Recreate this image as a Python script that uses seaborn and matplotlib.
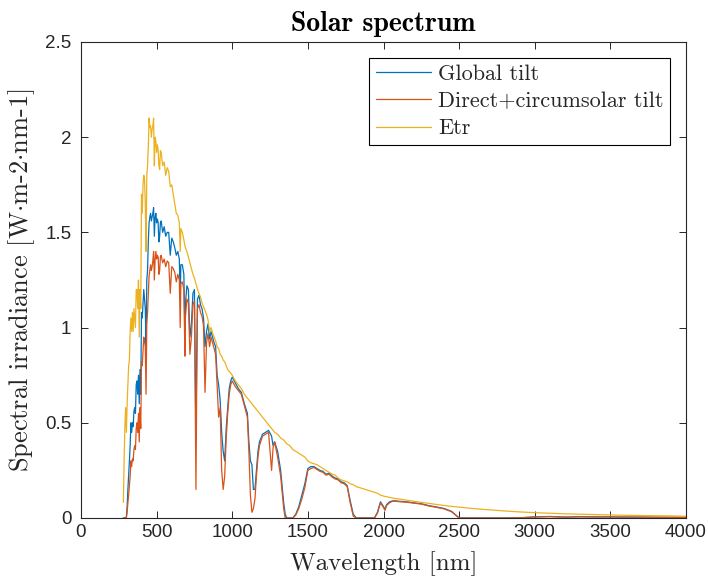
import numpy as np
import pandas as pd
import matplotlib
matplotlib.use("Agg")
import matplotlib.pyplot as plt
import seaborn as sns

# ---------------- data ----------------
wavelength = [
    280, 285, 290, 295, 300, 305, 310, 315, 320, 325,
    330, 335, 340, 345, 350, 355, 360, 365, 370, 375,
    380, 385, 390, 395, 400, 405, 410, 415, 420, 425,
    430, 435, 440, 445, 450, 455, 460, 465, 470, 475,
    480, 485, 490, 495, 500, 505, 510, 515, 520, 525,
    530, 540, 550, 560, 570, 580, 590, 600, 610, 620,
    630, 640, 650, 656, 660, 670, 680, 687, 690, 700,
    710, 720, 730, 740, 750, 760, 765, 770, 780, 790,
    800, 810, 820, 830, 840, 850, 860, 870, 880, 890,
    900, 910, 920, 930, 940, 950, 960, 970, 980, 990,
    1000, 1020, 1040, 1060, 1080, 1100, 1110, 1120, 1130, 1140,
    1150, 1160, 1170, 1180, 1200, 1220, 1240, 1260, 1270, 1280,
    1300, 1320, 1340, 1350, 1360, 1380, 1400, 1420, 1440, 1460,
    1480, 1500, 1520, 1540, 1560, 1580, 1600, 1620, 1640, 1660,
    1680, 1700, 1720, 1740, 1760, 1780, 1800, 1820, 1840, 1860,
    1880, 1900, 1920, 1940, 1960, 1980, 2000, 2010, 2020, 2040,
    2060, 2080, 2100, 2150, 2200, 2250, 2300, 2350, 2400, 2450,
    2500, 2600, 2700, 2800, 2900, 3000, 3100, 3200, 3300, 3400,
    3500, 3600, 3700, 3800, 3900, 4000,
]

global_tilt = [
    0.0, 0.0, 0.0, 0.0, 0.005, 0.06, 0.15, 0.22, 0.30, 0.38,
    0.50, 0.45, 0.50, 0.48, 0.56, 0.58, 0.55, 0.70, 0.72, 0.65,
    0.75, 0.60, 0.78, 0.65, 1.08, 1.05, 1.12, 1.20, 1.15, 1.10,
    0.90, 1.25, 1.30, 1.45, 1.55, 1.58, 1.60, 1.56, 1.58, 1.60,
    1.63, 1.48, 1.58, 1.60, 1.55, 1.57, 1.55, 1.45, 1.48, 1.55,
    1.56, 1.50, 1.53, 1.48, 1.50, 1.50, 1.38, 1.47, 1.45, 1.42,
    1.38, 1.40, 1.36, 1.15, 1.33, 1.33, 1.28, 0.98, 1.12, 1.22,
    1.20, 0.95, 1.02, 1.18, 1.20, 0.40, 0.85, 1.15, 1.17, 1.12,
    1.10, 1.05, 0.90, 0.98, 1.02, 0.94, 0.98, 0.95, 0.92, 0.90,
    0.75, 0.70, 0.62, 0.45, 0.35, 0.30, 0.47, 0.58, 0.68, 0.72,
    0.74, 0.71, 0.68, 0.66, 0.60, 0.55, 0.40, 0.30, 0.28, 0.15,
    0.15, 0.25, 0.35, 0.40, 0.44, 0.45, 0.46, 0.43, 0.38, 0.40,
    0.35, 0.25, 0.08, 0.02, 0.0, 0.0, 0.0, 0.02, 0.06, 0.12,
    0.18, 0.26, 0.27, 0.27, 0.26, 0.25, 0.245, 0.23, 0.235, 0.22,
    0.21, 0.205, 0.19, 0.185, 0.17, 0.09, 0.02, 0.0, 0.0, 0.0,
    0.0, 0.0, 0.0, 0.0, 0.03, 0.085, 0.06, 0.045, 0.07, 0.085,
    0.09, 0.09, 0.088, 0.085, 0.08, 0.075, 0.065, 0.058, 0.05, 0.035,
    0.0, 0.0, 0.0, 0.0, 0.001, 0.006, 0.008, 0.005, 0.007, 0.006,
    0.006, 0.005, 0.005, 0.004, 0.004, 0.004,
]

direct_tilt = [
    0.0, 0.0, 0.0, 0.0, 0.002, 0.03, 0.08, 0.12, 0.17, 0.22,
    0.30, 0.27, 0.31, 0.30, 0.36, 0.38, 0.36, 0.47, 0.50, 0.45,
    0.55, 0.40, 0.58, 0.47, 0.82, 0.80, 0.88, 0.95, 0.93, 0.90,
    0.65, 1.02, 1.08, 1.18, 1.27, 1.30, 1.33, 1.30, 1.32, 1.35,
    1.40, 1.25, 1.36, 1.40, 1.36, 1.38, 1.37, 1.28, 1.30, 1.37,
    1.38, 1.34, 1.36, 1.32, 1.35, 1.34, 1.18, 1.32, 1.31, 1.29,
    1.24, 1.28, 1.25, 1.00, 1.23, 1.24, 1.20, 0.85, 1.05, 1.15,
    1.13, 0.86, 0.95, 1.12, 1.14, 0.15, 0.70, 1.10, 1.12, 1.08,
    1.06, 1.01, 0.66, 0.92, 0.97, 0.90, 0.95, 0.92, 0.89, 0.86,
    0.70, 0.53, 0.58, 0.25, 0.15, 0.22, 0.42, 0.55, 0.65, 0.70,
    0.72, 0.69, 0.67, 0.65, 0.59, 0.53, 0.35, 0.12, 0.03, 0.05,
    0.10, 0.22, 0.32, 0.38, 0.43, 0.44, 0.45, 0.25, 0.37, 0.40,
    0.32, 0.22, 0.05, 0.0, 0.0, 0.0, 0.0, 0.015, 0.05, 0.10,
    0.16, 0.25, 0.26, 0.265, 0.255, 0.245, 0.24, 0.225, 0.23, 0.215,
    0.205, 0.20, 0.185, 0.18, 0.165, 0.08, 0.01, 0.0, 0.0, 0.0,
    0.0, 0.0, 0.0, 0.0, 0.025, 0.08, 0.055, 0.04, 0.065, 0.08,
    0.088, 0.088, 0.086, 0.083, 0.078, 0.073, 0.063, 0.056, 0.048, 0.033,
    0.0, 0.0, 0.0, 0.0, 0.001, 0.005, 0.007, 0.004, 0.006, 0.005,
    0.005, 0.004, 0.004, 0.004, 0.003, 0.003,
]

etr = [
    0.082, 0.30, 0.48, 0.58, 0.45, 0.60, 0.70, 0.80, 0.83, 0.98,
    1.05, 0.98, 1.08, 0.98, 1.10, 1.05, 1.00, 1.20, 1.20, 1.10,
    1.25, 0.95, 1.20, 1.10, 1.70, 1.60, 1.75, 1.80, 1.78, 1.65,
    1.40, 1.80, 1.85, 1.95, 2.10, 2.05, 2.06, 2.00, 2.04, 2.06,
    2.10, 1.85, 2.00, 1.98, 1.92, 1.96, 1.93, 1.85, 1.83, 1.93,
    1.92, 1.85, 1.87, 1.80, 1.84, 1.82, 1.74, 1.75, 1.70, 1.65,
    1.60, 1.59, 1.55, 1.40, 1.52, 1.50, 1.46, 1.43, 1.42, 1.40,
    1.37, 1.34, 1.31, 1.28, 1.26, 1.23, 1.22, 1.20, 1.18, 1.16,
    1.13, 1.11, 1.09, 1.07, 1.04, 0.98, 1.00, 0.97, 0.95, 0.93,
    0.90, 0.89, 0.86, 0.85, 0.83, 0.82, 0.80, 0.78, 0.77, 0.76,
    0.75, 0.72, 0.70, 0.68, 0.65, 0.63, 0.62, 0.61, 0.60, 0.59,
    0.58, 0.57, 0.56, 0.55, 0.53, 0.51, 0.49, 0.47, 0.46, 0.45,
    0.44, 0.42, 0.41, 0.40, 0.39, 0.38, 0.36, 0.35, 0.34, 0.33,
    0.32, 0.30, 0.29, 0.285, 0.28, 0.27, 0.26, 0.25, 0.24, 0.23,
    0.225, 0.21, 0.20, 0.195, 0.19, 0.18, 0.175, 0.165, 0.16, 0.155,
    0.15, 0.145, 0.14, 0.135, 0.13, 0.12, 0.115, 0.113, 0.112, 0.108,
    0.105, 0.102, 0.10, 0.094, 0.088, 0.082, 0.077, 0.071, 0.066, 0.061,
    0.057, 0.049, 0.043, 0.037, 0.032, 0.028, 0.025, 0.022, 0.020, 0.018,
    0.016, 0.014, 0.013, 0.012, 0.011, 0.009,
]

series_names = ["Global tilt", "Direct+circumsolar tilt", "Etr"]
series_colors = ["#0072BD", "#D95319", "#EDB120"]

x_ticks = [0, 500, 1000, 1500, 2000, 2500, 3000, 3500, 4000]
y_ticks = [0, 0.5, 1, 1.5, 2, 2.5]
y_tick_labels = ["0", "0.5", "1", "1.5", "2", "2.5"]

# ---------------- figure ----------------
sns.set_theme(style="white")
plt.rcParams["mathtext.fontset"] = "cm"
plt.rcParams["axes.unicode_minus"] = False

frames = []
for name, vals in zip(series_names, [global_tilt, direct_tilt, etr]):
    frames.append(pd.DataFrame({"Wavelength": wavelength, "Irradiance": vals, "Series": name}))
df = pd.concat(frames, ignore_index=True)

fig = plt.figure(figsize=(7.08, 5.81), dpi=100)
ax = fig.add_axes([81 / 708, 1 - 518 / 581, (686 - 81) / 708, (518 - 42) / 581])

sns.lineplot(data=df, x="Wavelength", y="Irradiance", hue="Series",
             hue_order=series_names, palette=series_colors,
             estimator=None, sort=False, linewidth=0.9, ax=ax, legend=False)

ax.set_xlim(0, 4000)
ax.set_ylim(0, 2.5)
ax.set_xticks(x_ticks)
ax.set_xticklabels([str(t) for t in x_ticks])
ax.set_yticks(y_ticks)
ax.set_yticklabels(y_tick_labels)

tick_color = "#262626"
for lab in ax.get_xticklabels() + ax.get_yticklabels():
    lab.set_fontfamily(["Liberation Sans", "DejaVu Sans"])
    lab.set_fontsize(13.5)
    lab.set_color(tick_color)
ax.tick_params(direction="in", length=5, width=0.7, colors=tick_color,
               top=True, right=True, bottom=True, left=True)
ax.tick_params(axis="x", pad=4)
ax.tick_params(axis="y", pad=7)
for sp in ax.spines.values():
    sp.set_visible(True)
    sp.set_color(tick_color)
    sp.set_linewidth(0.8)

ax.set_xlabel("Wavelength [nm]", fontfamily="cmr10", fontsize=18, color=tick_color, labelpad=8)
ax.set_ylabel(r"Spectral irradiance [W$\cdot$m-2$\cdot$nm-1]", fontfamily="cmr10",
              fontsize=19, color=tick_color, labelpad=6)
ax.set_title("Solar spectrum", fontfamily="cmb10", fontsize=20, color="black", pad=8)

handles = [plt.Line2D([], [], color=c, linewidth=0.9) for c in series_colors]
leg = ax.legend(handles, series_names, loc="upper right", prop={"family": "cmr10", "size": 16},
                frameon=True, fancybox=False, edgecolor="black", framealpha=1,
                handlelength=2.45, handletextpad=0.35, labelspacing=0.35,
                borderpad=0.3, borderaxespad=0.7)
leg.get_frame().set_linewidth(0.8)

fig.savefig("out.png", dpi=100)
